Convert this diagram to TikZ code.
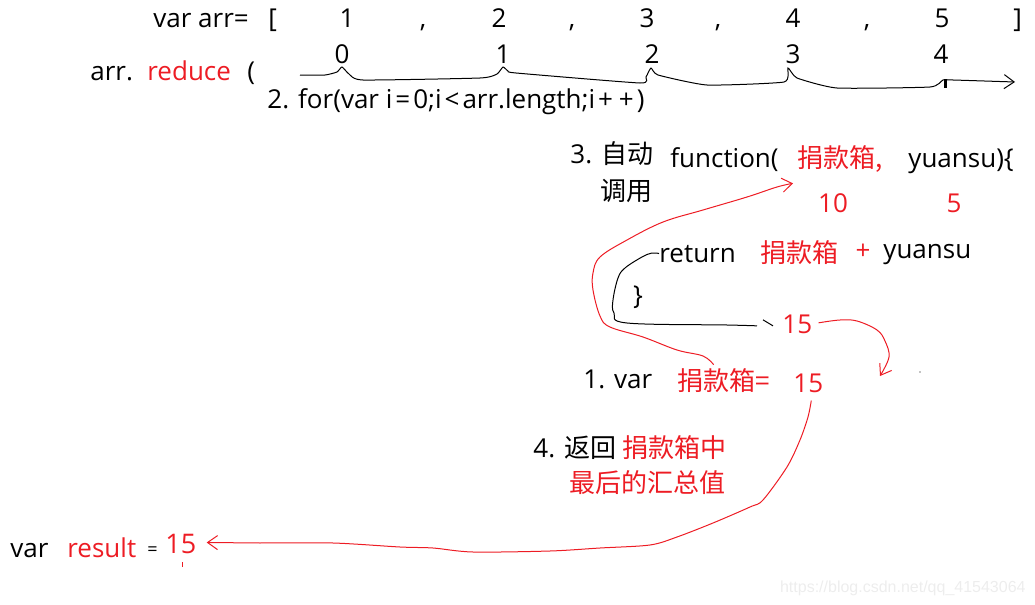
\documentclass[tikz,border=0pt]{standalone}
\usepackage{fontspec}
\setmainfont{Open Sans}
\newfontfamily\cjk{Noto Sans CJK SC}
\newfontfamily\wmfont{Liberation Sans}
\usetikzlibrary{positioning, arrows.meta}
\definecolor{inkred}{RGB}{237,28,36}
\newcommand{\wsym}[1]{\kern1.5pt#1\kern1.5pt}

\begin{document}
\begin{tikzpicture}[x=0.5pt, y=-0.5pt, font=\fontsize{13}{15}\selectfont,
	every node/.style={inner sep=0pt, anchor=base west},
	hl/.style={text=inkred},
	ink/.style={line width=0.5pt},
	barb/.style={-{Straight Barb[length=5pt,width=7pt]}}]
	\useasboundingbox (0,0) rectangle (1035,605);
	% the array and its indices
	\node (arrdef) at (153,27) {var arr=};
	\node (lb) at (268,27) {[};
	\foreach \v/\x in {1/347, 2/499, 3/647, 4/793, 5/942}
		\node[anchor=base] (val\v) at (\x,27) {\v};
	\foreach \x [count=\i] in {423, 572, 718, 867}
		\node[anchor=base] (comma\i) at (\x,27) {,};
	\node (rb) at (1013,27) {]};
	\foreach \i/\x in {0/342, 1/503, 2/652, 3/793, 4/941}
		\node[anchor=base] (idx\i) at (\x,63) {\i};
	\node (arr) at (90,80) {arr.};
	\node[hl] (reduce) at (147,80) {reduce};
	\node (par) at (247,80) {(};
	\node (loop) at (267,108) {2. for(var i\wsym{=}0;i\wsym{<}arr.length;i\wsym{+}\wsym{+})};
	\draw[ink, barb] plot[smooth, tension=0.3] coordinates {(300,75) (325,75) (337,72) (342,67) (349,74) (363,80) (480,78) (497,74) (503,67) (508,71) (516,73) (640,83) (646,77) (651,68) (658,75) (707,85) (784,82) (788,68) (797,78) (837,88) (930,87) (943,80) (953,80) (1015,82)};
	\draw[line width=1.5pt] (945,79) -- (945,88);
	% the callback
	\node (auto) at (570,163) {3. \cjk 自动};
	\node (call) at (600,200) {\cjk 调用};
	\node (fn) at (670,167) {function(};
	\node[hl] (box0) at (797,167) {\cjk 捐款箱,};
	\node (yu0) at (908,167) {yuansu)\{};
	\node[hl, anchor=base] (ten) at (833,212) {10};
	\node[hl, anchor=base] (five) at (954,212) {5};
	\node (ret) at (659,262) {return};
	\node[hl] (box2) at (760,262) {\cjk 捐款箱};
	\node[hl, anchor=center] (plus) at (863,252) {+};
	\node (yu1) at (883,258) {yuansu};
	\node[anchor=center] (close) at (638,297) {\}};
	\node[hl] (sum15) at (782,333) {15};
	\node (one) at (583,388) {1. var};
	\node[hl] (box1) at (677,390) {\cjk 捐款箱=};
	\node[hl] (acc15) at (793,392) {15};
	\node (four) at (533,457) {4. \cjk 返回};
	\node[hl] (box3) at (622,457) {\cjk 捐款箱中};
	\node[hl] (last) at (569,492) {\cjk 最后的汇总值};
	\node (var) at (10,557) {var};
	\node[hl] (result) at (67,557) {result};
	\node[font=\fontsize{9}{11}\selectfont] (eq) at (147,555) {=};
	\node[hl, font=\fontsize{13.5}{16}\selectfont] (res15) at (165,553) {15};
	\coordinate (drop) at (880,376);
	% hand drawn connectors
	\draw[inkred, ink, barb] plot[smooth, tension=0.6] coordinates {([shift={(-10,-3)}]box1.north) (703,356) (677,350) (643,337) (610,327) (600,316) (593,290) (593,273) (600,257) (627,240) (663,222) (703,210) (747,197) (777,187) ([shift={(-4,11)}]box0.south west)};
	\draw[ink] plot[smooth, tension=0.6] coordinates {(ret.west) (652,253) (642,257) (625,268) (618,278) (613,300) (614,313) (627,323) (727,325) ([shift={(-25,2)}]sum15.west)};
	\draw[ink] ([shift={(-19,-4)}]sum15.west) -- ([shift={(-9,2)}]sum15.west);
	\draw[inkred, ink, barb] plot[smooth, tension=0.6] coordinates {([shift={(6,-1)}]sum15.east) (840,320) (857,321) (877,330) (885,341) (889,357) (drop)};
	\fill (920,372) circle (0.7);
	\draw[inkred, ink, barb] plot[smooth, tension=0.5] coordinates {([shift={(3,8)}]acc15.south) (808,417) (800,440) (787,467) (763,500) (750,507) (713,523) (677,537) (650,545) (600,548) (550,551) (473,552) (433,548) (400,547) (333,543) (260,543)} -- ([shift={(10,-1)}]res15.east);
	\draw[inkred, ink] (182,562) -- (182,567);
	\node[text=black!7, anchor=base east, font=\wmfont\fontsize{8}{10}\selectfont] (wm) at (1026,592) {https://blog.csdn.net/qq\_41543064};
\end{tikzpicture}
\end{document}
